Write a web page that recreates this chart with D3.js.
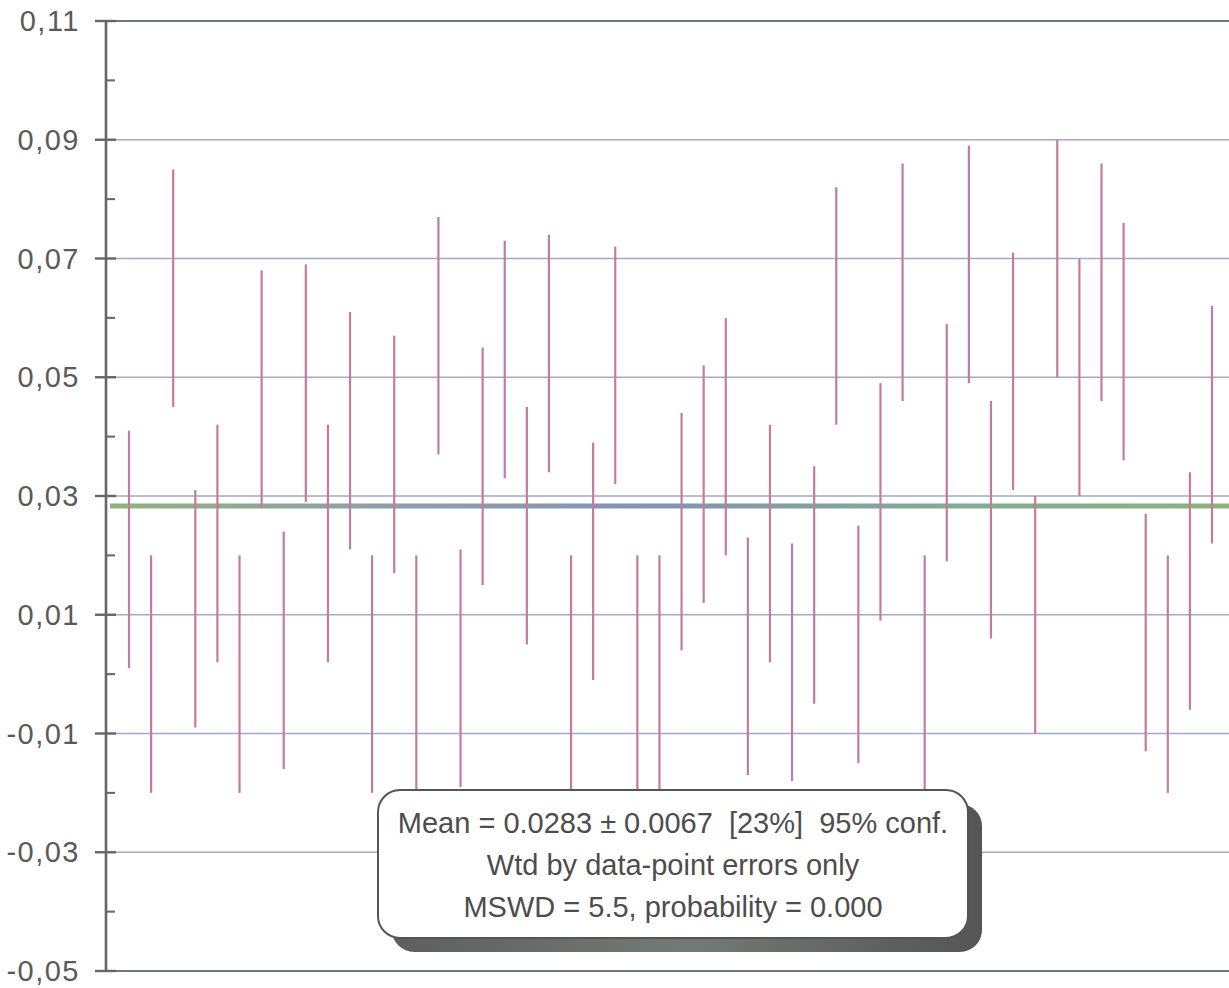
<!DOCTYPE html>
<html>
<head>
<meta charset="utf-8">
<script src="https://cdn.jsdelivr.net/npm/d3@7"></script>
<style>
  body { margin: 0; background: #fff; }
  svg { display: block; font-family: "Liberation Sans", Arial, sans-serif; }
</style>
</head>
<body>
<div id="chart"></div>
<script>
// data: centre value of each analysis and its 2-sigma error
const values = [0.021, 0.000, 0.065, 0.011, 0.022, 0.000, 0.048, 0.004, 0.049, 0.022,
                0.041, 0.000, 0.037, 0.000, 0.057, 0.001, 0.035, 0.053, 0.025, 0.054,
                0.000, 0.019, 0.052, 0.000, 0.000, 0.024, 0.032, 0.040, 0.003, 0.022,
                0.002, 0.015, 0.062, 0.005, 0.029, 0.066, 0.000, 0.039, 0.069, 0.026,
                0.051, 0.010, 0.070, 0.050, 0.066, 0.056, 0.007, 0.000, 0.014, 0.042];
const errors = [0.02, 0.02, 0.02, 0.02, 0.02, 0.02, 0.02, 0.02, 0.02, 0.02,
                0.02, 0.02, 0.02, 0.02, 0.02, 0.02, 0.02, 0.02, 0.02, 0.02,
                0.02, 0.02, 0.02, 0.02, 0.02, 0.02, 0.02, 0.02, 0.02, 0.02,
                0.02, 0.02, 0.02, 0.02, 0.02, 0.02, 0.02, 0.02, 0.02, 0.02,
                0.02, 0.02, 0.02, 0.02, 0.02, 0.02, 0.02, 0.02, 0.02, 0.02];
const meanValue = 0.0283;
const majorTicks = [0.11, 0.09, 0.07, 0.05, 0.03, 0.01, -0.01, -0.03, -0.05];
const minorTicks = [0.10, 0.08, 0.06, 0.04, 0.02, 0.00, -0.02, -0.04];
const gridTicks = [0.09, 0.07, 0.05, 0.03, 0.01, -0.01, -0.03];
const boxLines = ["Mean = 0.0283 \u00b1 0.0067  [23%]  95% conf.",
                  "Wtd by data-point errors only",
                  "MSWD = 5.5, probability = 0.000"];

const W = 1229, H = 988;
const svg = d3.select("#chart").append("svg")
  .attr("width", W).attr("height", H);

const y = d3.scaleLinear().domain([-0.05, 0.11]).range([971, 21]);
const x = d3.scaleLinear().domain([1, 50]).range([129, 1212]);
const axisX = 106;

// comma decimal labels
const fmt = d3.formatLocale({decimal: ",", thousands: ".", grouping: [3], currency: ["", ""], minus: "-"}).format(".2f");

// gradients (user space, a flat line has no bbox height)
const defs = svg.append("defs");
const g1 = defs.append("linearGradient").attr("id", "meanGrad")
  .attr("gradientUnits", "userSpaceOnUse").attr("x1", 100).attr("x2", W).attr("y1", 0).attr("y2", 0);
[[0, "#8db47c"], [0.25, "#8f9eaa"], [0.5, "#7f96ac"], [0.75, "#7fac94"], [1, "#8ab27e"]]
  .forEach(s => g1.append("stop").attr("offset", s[0]).attr("stop-color", s[1]));
const g2 = defs.append("linearGradient").attr("id", "shadowGrad");
[[0, "#5e5e5e"], [0.5, "#737a76"], [1, "#555"]]
  .forEach(s => g2.append("stop").attr("offset", s[0]).attr("stop-color", s[1]));

// grid lines
svg.selectAll(".grid").data(gridTicks).enter().append("line")
  .attr("x1", axisX).attr("x2", W)
  .attr("y1", d => y(d)).attr("y2", d => y(d))
  .attr("stroke", "#a3a9c6").attr("stroke-width", 1.3);

// frame top / bottom
svg.selectAll(".frame").data([0.11, -0.05]).enter().append("line")
  .attr("x1", 95).attr("x2", W)
  .attr("y1", d => y(d)).attr("y2", d => y(d))
  .attr("stroke", "#6f7775").attr("stroke-width", 2.2);

// mean line
svg.append("line")
  .attr("x1", axisX + 4).attr("x2", W)
  .attr("y1", y(meanValue)).attr("y2", y(meanValue))
  .attr("stroke", "url(#meanGrad)").attr("stroke-width", 5);

// error bars
svg.selectAll(".bar").data(values).enter().append("line")
  .attr("x1", (d, i) => x(i + 1)).attr("x2", (d, i) => x(i + 1))
  .attr("y1", (d, i) => y(d + errors[i])).attr("y2", (d, i) => y(d - errors[i]))
  .attr("stroke", "#c57b9b").attr("stroke-width", 2.2);

// y axis line + ticks
svg.append("line")
  .attr("x1", axisX).attr("x2", axisX).attr("y1", y(0.11)).attr("y2", y(-0.05))
  .attr("stroke", "#666").attr("stroke-width", 2.6);
svg.selectAll(".major").data(majorTicks).enter().append("line")
  .attr("x1", 95).attr("x2", 116)
  .attr("y1", d => y(d)).attr("y2", d => y(d))
  .attr("stroke", "#666").attr("stroke-width", 2.4);
svg.selectAll(".minor").data(minorTicks).enter().append("line")
  .attr("x1", axisX).attr("x2", 115)
  .attr("y1", d => y(d)).attr("y2", d => y(d))
  .attr("stroke", "#666").attr("stroke-width", 2);
svg.selectAll(".ylab").data(majorTicks).enter().append("text")
  .attr("x", 80).attr("y", d => y(d) + 10)
  .attr("text-anchor", "end")
  .attr("font-size", 29).attr("letter-spacing", 1.5)
  .attr("fill", "#5a5a5a")
  .text(d => fmt(d));

// annotation box
const box = {x: 378, y: 790, w: 590, h: 148};
svg.append("rect")
  .attr("x", box.x + 14).attr("y", box.y + 14).attr("width", box.w).attr("height", box.h)
  .attr("rx", 22).attr("fill", "url(#shadowGrad)");
svg.append("rect")
  .attr("x", box.x).attr("y", box.y).attr("width", box.w).attr("height", box.h)
  .attr("rx", 22).attr("fill", "#fff").attr("stroke", "#555").attr("stroke-width", 2);
svg.selectAll(".boxtxt").data(boxLines).enter().append("text")
  .attr("x", box.x + box.w / 2).attr("y", (d, i) => 833 + i * 42)
  .attr("text-anchor", "middle").attr("font-size", 29)
  .style("white-space", "pre")
  .attr("fill", "#4d4d4d")
  .text(d => d);
</script>
</body>
</html>
